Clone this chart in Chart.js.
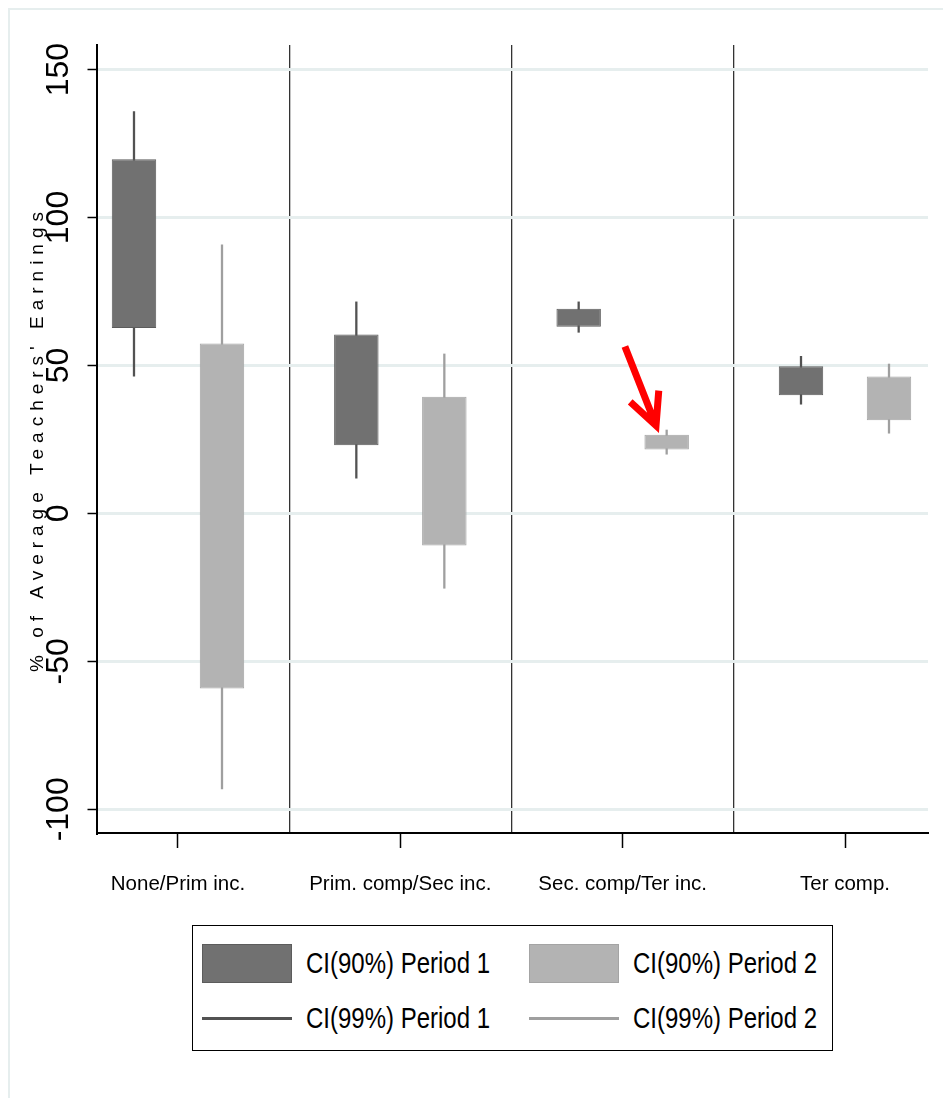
<!DOCTYPE html>
<html>
<head>
<meta charset="utf-8">
<script src="https://cdn.jsdelivr.net/npm/chart.js@4.4.1/dist/chart.umd.min.js"></script>
<style>
  body { margin: 0; background: #fff; }
  #wrap { position: relative; width: 943px; height: 1098px; overflow: hidden; }
  #frame { position: absolute; left: 8px; top: 8px; right: -4px; bottom: -4px;
           border-top: 2px solid #e6eeee; border-left: 2px solid #e6eeee; }
  #chart { position: absolute; left: 0; top: 0; }
  #legend { position: absolute; left: 192px; top: 925px; width: 641px; height: 126px;
            box-sizing: border-box; border: 1.5px solid #000; background: #fff;
            font-family: "Liberation Sans", Arial, sans-serif;
            font-size: 30px; color: #000; }
  .item { position: absolute; height: 40px; display: flex; align-items: center; white-space: nowrap; }
  .swatch { width: 90px; margin-right: 14px; box-sizing: border-box; flex: none; }
  .item span { display: inline-block; transform: scaleX(0.8); transform-origin: left center; }
</style>
</head>
<body>
<div id="wrap">
  <div id="frame"></div>
  <canvas id="chart" width="943" height="1098"></canvas>
  <div id="legend"></div>
</div>
<script>
// Education groups on the x axis
const categories = ['None/Prim inc.', 'Prim. comp/Sec inc.', 'Sec. comp/Ter inc.', 'Ter comp.'];

// 90% intervals (boxes)
const ci90P1Low = [62.7, 23.0, 63.1, 39.9];
const ci90P1High = [119.7, 60.5, 69.2, 49.7];
const ci90P2Low = [-59.2, -10.8, 21.6, 31.5];
const ci90P2High = [57.4, 39.4, 26.6, 46.3];

// 99% intervals (whiskers)
const ci99P1Low = [46.3, 11.8, 61.1, 36.8];
const ci99P1High = [135.9, 71.6, 71.6, 53.2];
const ci99P2Low = [-93.2, -25.4, 19.9, 27.0];
const ci99P2High = [90.9, 54.0, 28.3, 50.6];

const yTicks = [-100, -50, 0, 50, 100, 150];
const yTitle = "% of Average Teachers' Earnings";

// red arrow pointing at the Sec. comp/Ter inc. period 2 box (data units)
const arrowFrom = [3.01, 56.4];
const arrowTo = [3.15, 29.7];

const sans = '"Liberation Sans", Arial, sans-serif';
const dark = '#717171', darkEdge = '#5c5c5c', darkLine = '#525252';
const light = '#b3b3b3', lightEdge = '#a4a4a4', lightLine = '#9f9f9f';

function points(low, high) {
    return categories.map((c, i) => ({ x: i + 1, y: [low[i], high[i]] }));
}

// y title with spaced letters, drawn on the canvas
const titlePlugin = {
    id: 'yTitle',
    afterDraw(chart) {
        const ctx = chart.ctx;
        const area = chart.chartArea;
        ctx.save();
        ctx.translate(38, (area.top + area.bottom) / 2);
        ctx.rotate(-Math.PI / 2);
        ctx.font = '19px ' + sans;
        ctx.letterSpacing = '6px';
        ctx.fillStyle = '#000';
        ctx.textAlign = 'center';
        ctx.textBaseline = 'middle';
        ctx.fillText(yTitle, 0, 0);
        ctx.restore();
    }
};

const arrowPlugin = {
    id: 'arrow',
    afterDatasetsDraw(chart) {
        const ctx = chart.ctx;
        const x = chart.scales.x, y = chart.scales.y;
        const x0 = x.getPixelForValue(arrowFrom[0]), y0 = y.getPixelForValue(arrowFrom[1]);
        const x1 = x.getPixelForValue(arrowTo[0]), y1 = y.getPixelForValue(arrowTo[1]);
        const ang = Math.atan2(y0 - y1, x0 - x1);
        const head = 35, spread = 26 * Math.PI / 180;
        ctx.save();
        ctx.strokeStyle = '#ff0000';
        ctx.lineWidth = 7;
        ctx.lineJoin = 'miter';
        ctx.beginPath();
        ctx.moveTo(x0, y0);
        ctx.lineTo(x1, y1);
        ctx.moveTo(x1 + head * Math.cos(ang + spread), y1 + head * Math.sin(ang + spread));
        ctx.lineTo(x1, y1);
        ctx.lineTo(x1 + head * Math.cos(ang - spread), y1 + head * Math.sin(ang - spread));
        ctx.stroke();
        ctx.restore();
    }
};

const chart = new Chart(document.getElementById('chart'), {
    type: 'bar',
    data: {
        datasets: [
            { label: 'CI(90%) Period 1', stack: 'p1', data: points(ci90P1Low, ci90P1High),
              backgroundColor: dark, borderColor: darkEdge, borderWidth: 1, borderSkipped: false, barPercentage: 0.505 },
            { label: 'CI(90%) Period 2', stack: 'p2', data: points(ci90P2Low, ci90P2High),
              backgroundColor: light, borderColor: lightEdge, borderWidth: 1, borderSkipped: false, barPercentage: 0.505 },
            { label: 'CI(99%) Period 1', stack: 'p1', data: points(ci99P1Low, ci99P1High),
              backgroundColor: darkLine, borderWidth: 0, barPercentage: 0.026 },
            { label: 'CI(99%) Period 2', stack: 'p2', data: points(ci99P2Low, ci99P2High),
              backgroundColor: lightLine, borderWidth: 0, barPercentage: 0.026 }
        ]
    },
    options: {
        responsive: false,
        animation: false,
        categoryPercentage: 0.7916,
        layout: { padding: { left: 0, top: 45, right: 15, bottom: 0 } },
        plugins: { legend: { display: false }, tooltip: { enabled: false } },
        scales: {
            x: {
                type: 'linear',
                position: 'bottom',
                stacked: true,
                offset: false,
                min: 0.6357,
                max: 4.3733,
                afterBuildTicks: (scale) => { scale.ticks = categories.map((c, i) => ({ value: i + 1 })); },
                afterFit: (scale) => { scale.height = 1098 - 833; },
                ticks: {
                    callback: (v) => categories[v - 1],
                    font: { family: sans, size: 20.5 },
                    color: '#000',
                    padding: 24,
                    maxRotation: 0,
                    autoSkip: false
                },
                grid: { offset: false, drawOnChartArea: false, tickLength: 15, tickColor: '#000', tickWidth: 1.5 },
                border: { display: true, color: '#000', width: 2 }
            },
            // separators between the groups
            sep: {
                type: 'linear',
                position: 'top',
                offset: false,
                min: 0.6357,
                max: 4.3733,
                afterBuildTicks: (scale) => { scale.ticks = [1.5, 2.5, 3.5].map(v => ({ value: v })); },
                afterFit: (scale) => { scale.height = 0; },
                ticks: { display: false },
                grid: { offset: false, drawTicks: false, color: '#333', lineWidth: 1.3 },
                border: { display: false }
            },
            y: {
                stacked: false,
                min: -108,
                max: 158.3,
                afterBuildTicks: (scale) => { scale.ticks = yTicks.map(v => ({ value: v })); },
                afterFit: (scale) => { scale.width = 97; },
                ticks: {
                    font: { family: sans, size: 32 },
                    color: '#000',
                    minRotation: 90,
                    maxRotation: 90,
                    crossAlign: 'center',
                    padding: -4
                },
                grid: { color: '#e6eeee', lineWidth: 3, tickLength: 9.5, tickColor: '#000', tickWidth: 1.5 },
                border: { display: true, color: '#000', width: 2 }
            }
        }
    },
    plugins: [titlePlugin, arrowPlugin]
});

// legend built from the chart datasets, two columns as in the original
const legend = document.getElementById('legend');
const slots = [[9, 17], [336, 17], [9, 72], [336, 72]];
chart.data.datasets.forEach((ds, i) => {
    const item = document.createElement('div');
    item.className = 'item';
    item.style.left = slots[i][0] + 'px';
    item.style.top = slots[i][1] + 'px';
    const sw = document.createElement('div');
    sw.className = 'swatch';
    if (i < 2) {
        sw.style.height = '39px';
        sw.style.background = ds.backgroundColor;
        sw.style.border = '1px solid ' + ds.borderColor;
    } else {
        sw.style.height = '3px';
        sw.style.background = ds.backgroundColor;
    }
    const txt = document.createElement('span');
    txt.textContent = ds.label;
    item.appendChild(sw);
    item.appendChild(txt);
    legend.appendChild(item);
});
</script>
</body>
</html>
